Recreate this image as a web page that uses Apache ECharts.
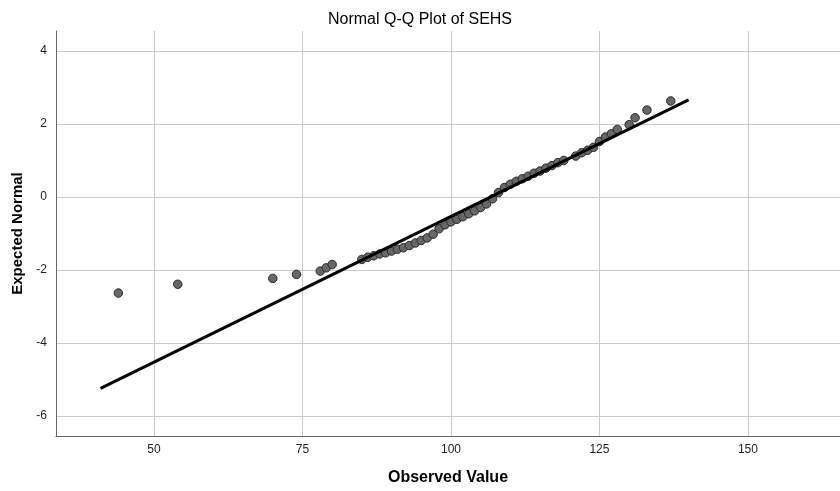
<!DOCTYPE html>
<html>
<head>
<meta charset="utf-8">
<script src="https://cdn.jsdelivr.net/npm/echarts@6/dist/echarts.min.js"></script>
<style>html,body{margin:0;padding:0;background:#fff}#c{width:840px;height:491px}</style>
</head>
<body>
<div id="c"></div>
<script>
// Observed values (distinct) and their expected normal scores
const observed = [44, 54, 70, 74, 78, 79, 80, 85, 86, 87, 88, 89, 90, 91, 92, 93, 94, 95, 96, 97, 98, 99, 100, 101, 102, 103, 104, 105, 106, 107, 108, 109, 110, 111, 112, 113, 114, 115, 116, 117, 118, 119, 121, 122, 123, 124, 125, 126, 127, 128, 130, 131, 133, 137];
const expected = [-2.63, -2.39, -2.23, -2.12, -2.03, -1.94, -1.85, -1.71, -1.65, -1.61, -1.56, -1.53, -1.48, -1.43, -1.39, -1.33, -1.26, -1.19, -1.12, -1.02, -0.87, -0.76, -0.68, -0.61, -0.54, -0.46, -0.38, -0.29, -0.19, -0.05, 0.12, 0.26, 0.35, 0.43, 0.50, 0.57, 0.65, 0.71, 0.79, 0.86, 0.94, 1.00, 1.12, 1.21, 1.28, 1.36, 1.52, 1.64, 1.73, 1.85, 1.98, 2.17, 2.38, 2.63];
// Reference line endpoints
const lineX = [41, 140];
const lineY = [-5.24, 2.66];
// Tick labels
const xTicks = [50, 75, 100, 125, 150];
const yTicks = [-6, -4, -2, 0, 2, 4];

const pts = observed.map((v, i) => [v, expected[i]]);
const linePts = lineX.map((v, i) => [v, lineY[i]]);
const font = '"Liberation Sans", Arial, sans-serif';

const chart = echarts.init(document.getElementById('c'));
chart.setOption({
  animation: false,
  backgroundColor: '#fff',
  title: {
    text: 'Normal Q-Q Plot of SEHS',
    left: 'center', top: 7,
    textStyle: { fontFamily: font, fontSize: 16, fontWeight: 'normal', color: '#000' }
  },
  grid: { left: 56, right: 0, top: 31, bottom: 53 },
  xAxis: {
    type: 'value', min: 33.5, max: 165.5,
    name: 'Observed Value', nameLocation: 'middle', nameGap: 34,
    nameTextStyle: { fontFamily: font, fontSize: 16, fontWeight: 'bold', color: '#000' },
    axisLine: { show: true, onZero: false, lineStyle: { color: '#666', width: 1 } },
    axisTick: { show: false, customValues: xTicks },
    axisLabel: { customValues: xTicks, fontFamily: font, fontSize: 12, color: '#222', margin: 8 },
    splitLine: { show: true, lineStyle: { color: '#cacaca', width: 1 } }
  },
  yAxis: {
    type: 'value', min: -6.545, max: 4.545,
    name: 'Expected Normal', nameLocation: 'middle', nameGap: 31, nameRotate: 90,
    nameTextStyle: { fontFamily: font, fontSize: 15, fontWeight: 'bold', color: '#000' },
    axisLine: { show: true, onZero: false, lineStyle: { color: '#666', width: 1 } },
    axisTick: { show: false, customValues: yTicks },
    axisLabel: { customValues: yTicks, fontFamily: font, fontSize: 12, color: '#222', margin: 9 },
    splitLine: { show: true, lineStyle: { color: '#cacaca', width: 1 } }
  },
  series: [
    {
      type: 'line', data: linePts, symbol: 'none', silent: true, z: 3,
      lineStyle: { color: '#000', width: 3 }
    },
    {
      type: 'scatter', data: pts, symbol: 'circle', symbolSize: 8.5, z: 2,
      itemStyle: { color: '#676767', borderColor: '#2a2a2a', borderWidth: 1, opacity: 1 }
    }
  ]
});
</script>
</body>
</html>
